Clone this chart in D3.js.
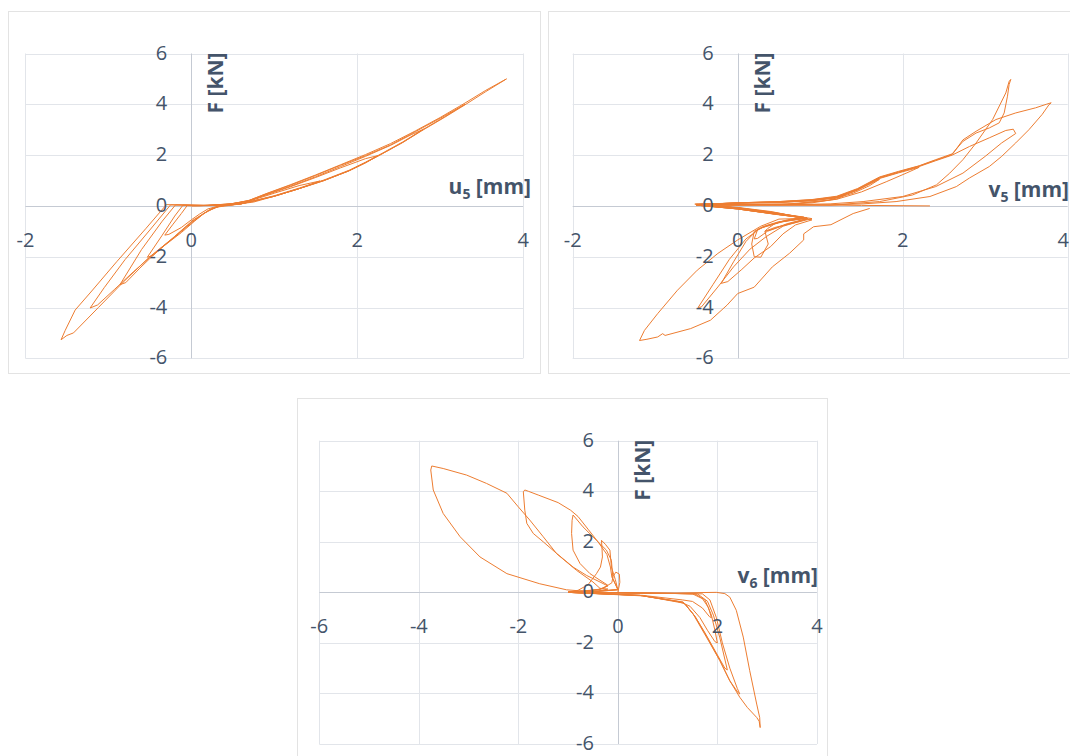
<!DOCTYPE html>
<html><head><meta charset="utf-8">
<script src="https://cdn.jsdelivr.net/npm/d3@7"></script>
<style>html,body{margin:0;padding:0;background:#fff;}svg{display:block;}</style>
</head><body>
<svg id="c" width="1070" height="756"></svg>
<script>
// ---------- DATA ----------
const yTicks = [-6, -4, -2, 0, 2, 4, 6];
const xTicksTop = [-2, 0, 2, 4];
const xTicksBottom = [-6, -4, -2, 0, 2, 4];
const yTitle = "F [kN]";
const xTitles = [["u", "5"], ["v", "5"], ["v", "6"]];

// u5 [mm] vs F [kN]
const u5Data = [
[0,0],[0.2,0.01],[0.5,0.05],[0.75,0.15],[1.0,0.38],[1.3,0.68],[1.55,0.98],
[1.3,0.8],[1.0,0.5],[0.7,0.19],[0.45,0.06],[0.2,0.02],[0.05,0.0],
[-0.05,0.01],[-0.12,-0.3],[-0.22,-0.72],[-0.32,-1.15],[-0.27,-1.12],[-0.12,-0.85],[0.0,-0.55],[0.1,-0.32],[0.2,-0.12],[0.33,0.0],
[0.6,0.08],[1.0,0.38],[1.3,0.68],[1.6,1.0],[1.9,1.38],[2.1,1.7],[2.25,1.98],
[2.1,1.86],[1.8,1.5],[1.5,1.12],[1.2,0.76],[0.9,0.43],[0.65,0.16],[0.4,0.05],[0.1,0.01],
[-0.1,0.03],[-0.2,-0.4],[-0.35,-1.15],[-0.53,-2.02],[-0.46,-1.95],[-0.32,-1.55],[-0.12,-1.05],[0.04,-0.6],[0.15,-0.3],[0.25,-0.1],[0.36,0.0],
[0.6,0.08],[1.0,0.38],[1.3,0.68],[1.6,1.0],[1.9,1.38],[2.1,1.7],[2.3,2.05],[2.55,2.5],[2.8,3.02],
[2.65,2.8],[2.4,2.38],[2.1,1.95],[1.8,1.55],[1.5,1.15],[1.2,0.78],[0.9,0.45],[0.7,0.2],[0.45,0.07],[0.15,0.02],
[-0.19,0.04],[-0.35,-0.6],[-0.6,-1.72],[-0.86,-3.1],[-0.79,-3.02],[-0.62,-2.45],[-0.42,-1.82],[-0.2,-1.22],[0.0,-0.68],[0.12,-0.38],[0.22,-0.15],[0.35,0.0],
[0.6,0.08],[1.0,0.4],[1.3,0.7],[1.6,1.02],[1.9,1.4],[2.1,1.72],[2.3,2.07],[2.55,2.52],[2.8,3.02],[3.05,3.5],[3.3,4.0],
[3.0,3.45],[2.7,2.92],[2.4,2.4],[2.1,1.98],[1.8,1.6],[1.5,1.2],[1.2,0.82],[0.9,0.47],[0.7,0.22],[0.5,0.09],[0.2,0.02],
[-0.25,0.04],[-0.5,-0.95],[-0.8,-2.12],[-1.05,-3.22],[-1.22,-4.02],[-1.13,-3.9],[-0.93,-3.3],[-0.7,-2.6],[-0.45,-1.88],[-0.2,-1.2],[0.02,-0.56],[0.2,-0.2],[0.35,0.0],
[0.6,0.08],[1.0,0.38],[1.3,0.68],[1.6,1.0],[1.9,1.38],[2.1,1.7],[2.3,2.05],[2.55,2.5],[2.8,3.0],[3.05,3.48],[3.3,3.98],[3.55,4.5],[3.8,5.0],
[3.55,4.55],[3.3,4.05],[3.0,3.48],[2.7,2.95],[2.4,2.45],[2.1,2.02],[1.8,1.62],[1.5,1.22],[1.2,0.84],[0.9,0.48],[0.7,0.22],[0.5,0.08],[0.2,0.02],
[-0.3,0.05],[-0.55,-0.9],[-0.9,-2.2],[-1.2,-3.35],[-1.4,-4.1],[-1.52,-4.9],[-1.57,-5.27],[-1.5,-5.1],[-1.42,-5.0],[-1.12,-4.0],[-0.82,-3.0],[-0.5,-2.0],[-0.25,-1.35],[0.0,-0.64],[0.15,-0.3],[0.3,-0.05],[0.6,0.08]
];

// v5 [mm] vs F [kN]
const v5Data = [
[2.33,0.0],[1.5,0.02],[0.5,0.05],[-0.52,0.07],
[0.0,0.1],[0.5,0.13],[0.9,0.2],[1.15,0.3],[1.3,0.42],
[1.2,0.27],[0.9,0.12],[0.5,0.05],[-0.5,0.04],
[0.0,-0.08],[0.4,-0.26],[0.8,-0.44],
[0.6,-0.55],[0.45,-0.7],[0.36,-0.9],[0.33,-1.0],[0.42,-0.92],[0.6,-0.7],[0.84,-0.5],
[0.4,-0.22],[0.0,-0.06],[-0.5,0.06],
[0.0,0.11],[0.5,0.14],[0.9,0.21],[1.2,0.32],[1.4,0.55],[1.55,0.78],[1.72,1.05],
[1.6,0.8],[1.4,0.5],[1.1,0.22],[0.6,0.07],[-0.5,0.03],
[0.0,-0.1],[0.45,-0.3],[0.82,-0.46],
[0.55,-0.6],[0.35,-0.78],[0.24,-0.95],[0.2,-1.3],[0.24,-1.28],[0.36,-1.0],[0.6,-0.72],[0.85,-0.5],
[0.45,-0.26],[0.0,-0.07],[-0.5,0.06],
[0.0,0.12],[0.5,0.15],[0.9,0.22],[1.2,0.34],[1.45,0.62],[1.72,1.08],[1.95,1.3],[2.2,1.52],
[2.05,1.3],[1.8,0.95],[1.5,0.55],[1.2,0.26],[0.7,0.08],[-0.5,0.03],
[0.0,-0.12],[0.45,-0.33],[0.84,-0.48],
[0.55,-0.62],[0.3,-0.85],[0.2,-1.0],[0.17,-1.5],[0.2,-2.0],[0.28,-2.02],[0.37,-1.5],[0.33,-1.0],[0.45,-0.85],[0.7,-0.66],[0.9,-0.5],
[0.5,-0.3],[0.0,-0.08],[-0.5,0.05],
[0.0,0.12],[0.5,0.16],[0.9,0.23],[1.2,0.35],[1.45,0.64],[1.72,1.1],[1.95,1.32],[2.2,1.55],[2.4,1.78],[2.6,2.0],
[2.81,2.34],[3.05,2.68],[3.25,2.97],[3.34,3.02],[3.37,2.85],[3.2,2.48],[3.0,1.95],[2.73,1.29],[2.4,0.76],[2.0,0.37],[1.52,0.17],[1.12,0.08],[0.5,0.04],[-0.5,0.03],
[0.0,-0.12],[0.45,-0.32],[0.82,-0.47],
[0.5,-0.65],[0.25,-0.9],[0.1,-1.4],[-0.05,-2.2],[-0.2,-3.05],[-0.12,-2.98],[0.05,-2.5],[0.2,-2.05],[0.4,-1.6],[0.55,-1.1],[0.7,-0.75],[0.9,-0.55],
[0.5,-0.3],[0.0,-0.08],[-0.5,0.05],
[0.0,0.12],[0.5,0.17],[0.9,0.24],[1.2,0.36],[1.45,0.66],[1.72,1.12],[1.95,1.34],[2.2,1.57],[2.4,1.8],[2.6,2.02],
[2.73,2.6],[2.89,2.94],[3.13,3.4],[3.37,3.66],[3.61,3.86],[3.74,4.0],[3.8,4.06],[3.77,3.97],[3.69,3.6],[3.53,3.0],[3.37,2.48],[3.2,1.95],[3.05,1.55],[2.81,1.1],[2.65,0.76],[2.33,0.37],[1.92,0.17],[1.52,0.08],[1.12,0.04],[0.5,0.03],[-0.5,0.03],
[0.0,-0.12],[0.45,-0.32],[0.84,-0.49],
[0.5,-0.62],[0.3,-0.82],[0.1,-1.3],[-0.1,-2.1],[-0.3,-3.1],[-0.48,-4.0],[-0.44,-3.98],[-0.24,-3.19],[-0.05,-2.4],[0.15,-1.7],[0.35,-1.2],[0.55,-0.8],[0.84,-0.52],
[0.4,-0.25],[0.0,-0.08],[-0.5,0.05],
[0.0,0.12],[0.5,0.17],[0.9,0.25],[1.2,0.38],[1.45,0.68],[1.72,1.14],[1.95,1.36],[2.2,1.58],[2.4,1.82],[2.6,2.05],
[2.73,2.54],[2.89,2.87],[3.05,3.07],[3.17,3.27],[3.23,3.66],[3.27,4.32],[3.29,4.78],[3.31,4.98],[3.29,4.9],[3.25,4.45],[3.09,3.4],[2.89,2.48],[2.73,1.82],[2.57,1.29],[2.41,0.83],[2.12,0.43],[1.72,0.17],[1.12,0.03],[0.5,0.03],[-0.5,0.04],
[0.0,-0.12],[0.45,-0.32],[0.84,-0.49],
[0.5,-0.52],[0.28,-0.8],[0.0,-1.34],[-0.24,-1.87],[-0.49,-2.53],[-0.73,-3.32],[-0.97,-4.24],[-1.13,-4.9],[-1.19,-5.3],[-1.1,-5.25],[-0.97,-5.16],[-0.91,-5.03],[-0.88,-5.1],[-0.57,-4.83],[-0.33,-4.5],[-0.13,-3.91],[0.0,-3.45],[0.2,-3.2],[0.42,-2.4],[0.63,-1.86],[0.8,-1.34],[0.8,-1.1],[0.92,-0.82],[1.13,-0.74],[1.4,-0.3],[1.6,-0.1]
];

// v6 [mm] vs F [kN]
const v6Data = [
[0,0],[0.04,0.4],[0.03,0.72],[-0.04,0.8],[-0.1,0.62],[-0.12,0.38],[-0.3,0.15],[-0.6,0.05],[-1.0,0.0],
[0.0,-0.02],[1.0,-0.04],[1.5,-0.06],[1.7,-0.25],[1.82,-0.6],[1.88,-1.0],[1.84,-0.96],[1.7,-0.62],[1.5,-0.36],[1.3,-0.3],[0.5,-0.12],[-1.0,0.0],
[-0.4,0.04],[0.0,0.1],[-0.05,0.5],[-0.13,1.0],[-0.16,1.67],[-0.25,1.9],[-0.33,2.06],[-0.32,1.8],[-0.31,1.4],[-0.35,1.0],[-0.43,0.74],[-0.6,0.3],[-0.8,0.08],[-1.0,0.0],
[0.0,-0.02],[1.0,-0.04],[1.55,-0.06],[1.75,-0.3],[1.88,-0.9],[1.95,-1.5],[2.0,-2.0],[1.95,-1.95],[1.8,-1.5],[1.65,-1.0],[1.45,-0.55],[1.3,-0.42],[0.5,-0.13],[-1.0,0.0],
[-0.4,0.04],[0.0,0.1],[-0.1,0.55],[-0.13,1.27],[-0.23,1.67],[-0.43,2.06],[-0.7,2.59],[-0.9,3.06],[-0.92,2.85],[-0.93,2.33],[-0.9,1.67],[-0.76,1.14],[-0.56,0.74],[-0.36,0.48],[-0.2,0.28],[-0.35,0.12],[-1.0,0.0],
[0.0,-0.02],[1.0,-0.04],[1.6,-0.06],[1.8,-0.35],[1.92,-0.9],[2.05,-1.8],[2.2,-3.07],[2.15,-3.0],[1.95,-2.3],[1.75,-1.6],[1.55,-0.95],[1.35,-0.45],[1.2,-0.36],[0.5,-0.14],[-1.0,0.0],
[-0.4,0.05],[0.0,0.12],[-0.12,0.6],[-0.15,1.0],[-0.22,1.5],[-0.4,2.0],[-0.6,2.5],[-0.8,3.0],[-0.95,3.25],[-1.2,3.55],[-1.6,3.85],[-1.8,4.0],[-1.87,4.05],[-1.9,3.98],[-1.87,3.25],[-1.83,2.73],[-1.7,2.33],[-1.5,2.0],[-1.23,1.54],[-0.9,1.0],[-0.63,0.67],[-0.36,0.41],[-0.2,0.25],[-0.4,0.1],[-1.0,0.0],
[0.0,-0.02],[1.0,-0.04],[1.7,-0.06],[1.85,-0.3],[1.98,-1.0],[2.1,-2.0],[2.25,-3.0],[2.4,-3.8],[2.45,-4.02],[2.42,-3.98],[2.25,-3.5],[2.05,-2.7],[1.78,-1.77],[1.51,-0.85],[1.31,-0.38],[0.44,-0.12],[-1.0,0.0],
[-0.4,0.05],[-0.2,0.13],[-0.36,0.16],[-0.5,0.41],[-0.83,0.87],[-1.23,1.53],[-1.5,2.2],[-1.77,2.86],[-2.0,3.38],[-2.23,3.92],[-2.64,4.31],[-3.04,4.64],[-3.51,4.9],[-3.74,5.0],[-3.76,4.84],[-3.71,4.05],[-3.51,3.12],[-3.17,2.2],[-2.77,1.4],[-2.23,0.74],[-1.57,0.34],[-1.03,0.1],[-0.71,0.05],[-1.0,0.0],
[0.0,-0.02],[1.0,-0.03],[1.98,0.0],[2.15,-0.05],[2.25,-0.19],[2.38,-0.71],[2.52,-1.77],[2.65,-3.1],[2.79,-4.42],[2.85,-4.95],[2.86,-5.35],[2.84,-5.1],[2.79,-4.95],[2.6,-4.55],[2.45,-4.15],[2.25,-3.5],[2.05,-2.7],[1.8,-1.8],[1.55,-0.95],[1.32,-0.4],[0.44,-0.12],[-1.0,0.0]
];

// ---------- LAYOUT ----------
const panels = [
  {data: u5Data, xDomain: [-2, 4], xTicks: xTicksTop, title: xTitles[0],
   frame: [8, 11, 532, 362], range: [25.4, 523.1], yRange: [358.3, 53.5],
   xTitleAt: [531, 194], lastTickEnd: false},
  {data: v5Data, xDomain: [-2, 4], xTicks: xTicksTop, title: xTitles[1],
   frame: [548, 11, 540, 362], range: [572.7, 1067.7], yRange: [358.3, 53.5],
   xTitleAt: [1069, 197], lastTickEnd: true},
  {data: v6Data, xDomain: [-6, 4], xTicks: xTicksBottom, title: xTitles[2],
   frame: [297, 398, 530, 370], range: [319.3, 816.9], yRange: [744, 440.7],
   xTitleAt: [818, 583], lastTickEnd: false}
];

const TEXT = "#44546A", GRID = "#e2e5ea", AXIS = "#c5cad3", LINE = "#ED7D31";
const FONT = "'Open Sans', 'Noto Sans', sans-serif";
const svg = d3.select("#c");
svg.append("rect").attr("width", 1070).attr("height", 756).attr("fill", "#fff");

panels.forEach(p => {
  const g = svg.append("g");
  const [fx, fy, fw, fh] = p.frame;
  g.append("rect").attr("x", fx + 0.5).attr("y", fy + 0.5).attr("width", fw).attr("height", fh)
    .attr("fill", "#fff").attr("stroke", "#e3e3e3").attr("stroke-width", 1);

  const x = d3.scaleLinear().domain(p.xDomain).range(p.range);
  const y = d3.scaleLinear().domain([-6, 6]).range(p.yRange);
  const x0 = x(0), y0 = y(0);

  // gridlines
  g.append("g").selectAll("line").data(p.xTicks.filter(t => t !== 0)).join("line")
    .attr("x1", d => Math.round(x(d)) + 0.5).attr("x2", d => Math.round(x(d)) + 0.5)
    .attr("y1", y(6)).attr("y2", y(-6)).attr("stroke", GRID);
  g.append("g").selectAll("line").data(yTicks.filter(t => t !== 0)).join("line")
    .attr("y1", d => Math.round(y(d)) + 0.5).attr("y2", d => Math.round(y(d)) + 0.5)
    .attr("x1", x(p.xDomain[0])).attr("x2", x(p.xDomain[1])).attr("stroke", GRID);
  // axes at zero
  g.append("line").attr("x1", Math.round(x0) + 0.5).attr("x2", Math.round(x0) + 0.5)
    .attr("y1", y(6)).attr("y2", y(-6)).attr("stroke", AXIS);
  g.append("line").attr("y1", Math.round(y0) + 0.5).attr("y2", Math.round(y0) + 0.5)
    .attr("x1", x(p.xDomain[0])).attr("x2", x(p.xDomain[1])).attr("stroke", AXIS);

  // curve
  const line = d3.line().x(d => x(d[0])).y(d => y(d[1]));
  g.append("path").datum(p.data).attr("d", line).attr("fill", "none")
    .attr("stroke", LINE).attr("stroke-width", 1).attr("stroke-linejoin", "round");

  // tick labels
  g.append("g").selectAll("text").data(yTicks).join("text")
    .attr("x", x0 - 24).attr("y", d => y(d)).attr("dy", "0.3em")
    .attr("text-anchor", "end").attr("font-family", FONT).attr("font-size", 20)
    .attr("fill", TEXT).text(d => String(d));
  const lastX = p.xTicks[p.xTicks.length - 1];
  g.append("g").selectAll("text").data(p.xTicks).join("text")
    .attr("x", d => (p.lastTickEnd && d === lastX) ? 1069 : x(d)).attr("y", y0 + 34).attr("dy", "0.34em")
    .attr("text-anchor", d => (p.lastTickEnd && d === lastX) ? "end" : "middle")
    .attr("font-family", FONT).attr("font-size", 20)
    .attr("fill", TEXT).text(d => String(d));

  // y title
  g.append("text").attr("transform", `translate(${x0 + 32},${y(6) - 1}) rotate(-90)`)
    .attr("text-anchor", "end").attr("font-family", FONT).attr("font-weight", "bold")
    .attr("font-size", 21).attr("fill", TEXT).text(yTitle);
  // x title with subscript
  const t = g.append("text").attr("x", p.xTitleAt[0]).attr("y", p.xTitleAt[1])
    .attr("text-anchor", "end").attr("font-family", FONT).attr("font-weight", "bold")
    .attr("font-size", 21).attr("fill", TEXT);
  t.append("tspan").text(p.title[0]);
  t.append("tspan").attr("font-size", 14).attr("dy", 5).text(p.title[1]);
  t.append("tspan").attr("dy", -5).text(" [mm]");
});
</script>
</body></html>
